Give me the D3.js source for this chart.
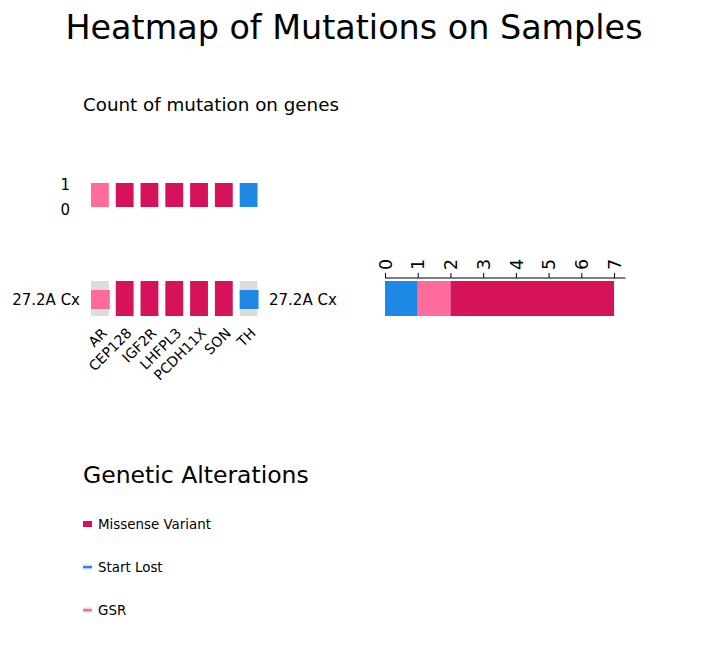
<!DOCTYPE html>
<html><head><meta charset="utf-8">
<script src="https://cdn.jsdelivr.net/npm/d3@7"></script>
<style>body{margin:0;background:#fff}svg{font-family:"DejaVu Sans",sans-serif}</style>
</head><body>
<script>
const genes = ["AR","CEP128","IGF2R","LHFPL3","PCDH11X","SON","TH"];
const sample = "27.2A Cx";
const mutationTypes = ["Missense Variant","Start Lost","GSR"];
const typeColors = ["#D6135A","#1E88E5","#FF6C9C"];
const geneMutation = ["GSR","Missense Variant","Missense Variant","Missense Variant","Missense Variant","Missense Variant","Start Lost"];
const geneCounts = [1,1,1,1,1,1,1];
const sampleTypeCounts = [["Start Lost",1],["GSR",1],["Missense Variant",5]];
const countTicks = [0,1,2,3,4,5,6,7];
const topTicks = [0,1];

const W=725,H=668;
const svg=d3.select("body").append("svg").attr("width",W).attr("height",H);
const color=d3.scaleOrdinal(mutationTypes,typeColors);
const fullTypes=["Missense Variant"];

svg.append("text").attr("x",354).attr("y",39).attr("text-anchor","middle").attr("font-size",33.4).text("Heatmap of Mutations on Samples");
svg.append("text").attr("x",83).attr("y",111).attr("font-size",18.3).text("Count of mutation on genes");

const x=d3.scaleBand().domain(genes).range([87.5,261]).paddingInner(0.28).paddingOuter(0.14);

// top bar annotation
const yTop=d3.scaleLinear().domain([0,1]).range([207,183]);
svg.append("g").selectAll("rect").data(genes).join("rect")
  .attr("x",d=>x(d)).attr("width",x.bandwidth())
  .attr("y",(d,i)=>yTop(geneCounts[i])).attr("height",(d,i)=>yTop(0)-yTop(geneCounts[i]))
  .attr("fill",(d,i)=>color(geneMutation[i]));
const ay=d3.axisLeft(yTop).tickValues(topTicks).tickSize(0).tickPadding(0).tickFormat(d3.format("d"));
const gy=svg.append("g").attr("transform","translate(70,0)").call(ay);
gy.select(".domain").remove();
gy.selectAll("text").attr("font-size",15).attr("font-family","DejaVu Sans").attr("dy","0.35em")
  .attr("y",d=>d===0?2:1);

// main heatmap row
const y0=281,y1=316;
const cells=svg.append("g");
genes.forEach((g,i)=>{
  const t=geneMutation[i];
  if(fullTypes.includes(t)){
    cells.append("rect").attr("x",x(g)).attr("y",y0).attr("width",x.bandwidth()).attr("height",y1-y0).attr("fill",color(t));
  } else {
    cells.append("rect").attr("x",x(g)).attr("y",y0).attr("width",x.bandwidth()).attr("height",y1-y0).attr("fill","#DCDCDC");
    cells.append("rect").attr("x",x(g)).attr("y",290).attr("width",x.bandwidth()+1).attr("height",19).attr("fill",color(t));
  }
});
svg.append("text").attr("x",80).attr("y",304.5).attr("text-anchor","end").attr("font-size",15).text(sample);
svg.append("text").attr("x",269).attr("y",304.5).attr("font-size",15).text(sample);
svg.append("g").selectAll("text").data(genes).join("text")
  .attr("transform",d=>`translate(${x(d)+x.bandwidth()/2+8},${334}) rotate(-45)`)
  .attr("text-anchor","end").attr("font-size",14).text(d=>d);

// right stacked bar
const xr=d3.scaleLinear().domain([0,7.35]).range([385,625.5]);
let acc=0;
const stacks=sampleTypeCounts.map(([t,v])=>{const s={t,a:acc,b:acc+v};acc+=v;return s;});
svg.append("g").selectAll("rect").data(stacks).join("rect")
  .attr("x",d=>xr(d.a)).attr("width",d=>xr(d.b)-xr(d.a)).attr("y",y0).attr("height",y1-y0)
  .attr("fill",d=>color(d.t));
const ax=d3.axisTop(xr).tickValues(countTicks).tickSize(5).tickSizeOuter(0).tickPadding(3).tickFormat(d3.format("d"));
const gx=svg.append("g").attr("transform","translate(0,278)").call(ax);
gx.select(".domain").attr("stroke","#000").attr("d",`M${xr(0)},0H${xr(7.35)}`);
gx.selectAll("text").attr("font-size",17.5).attr("font-family","DejaVu Sans")
  .attr("transform","rotate(-90)").attr("text-anchor","start").attr("x",8).attr("y",0).attr("dy","0.35em");

// legend
svg.append("text").attr("x",83).attr("y",483).attr("font-size",23.5).text("Genetic Alterations");
const lg=svg.append("g");
const ly=[524,567,610];
mutationTypes.forEach((t,i)=>{
  if(fullTypes.includes(t)){
    lg.append("rect").attr("x",83).attr("y",ly[i]-3).attr("width",9).attr("height",6).attr("fill",color(t));
  } else {
    lg.append("rect").attr("x",83).attr("y",ly[i]-2.5).attr("width",9).attr("height",5).attr("fill","#DCDCDC");
    lg.append("rect").attr("x",83).attr("y",ly[i]-1).attr("width",9).attr("height",2.2).attr("fill",color(t));
  }
  lg.append("text").attr("x",98).attr("y",ly[i]+4.5).attr("font-size",13.4).text(t);
});
</script>
</body></html>
